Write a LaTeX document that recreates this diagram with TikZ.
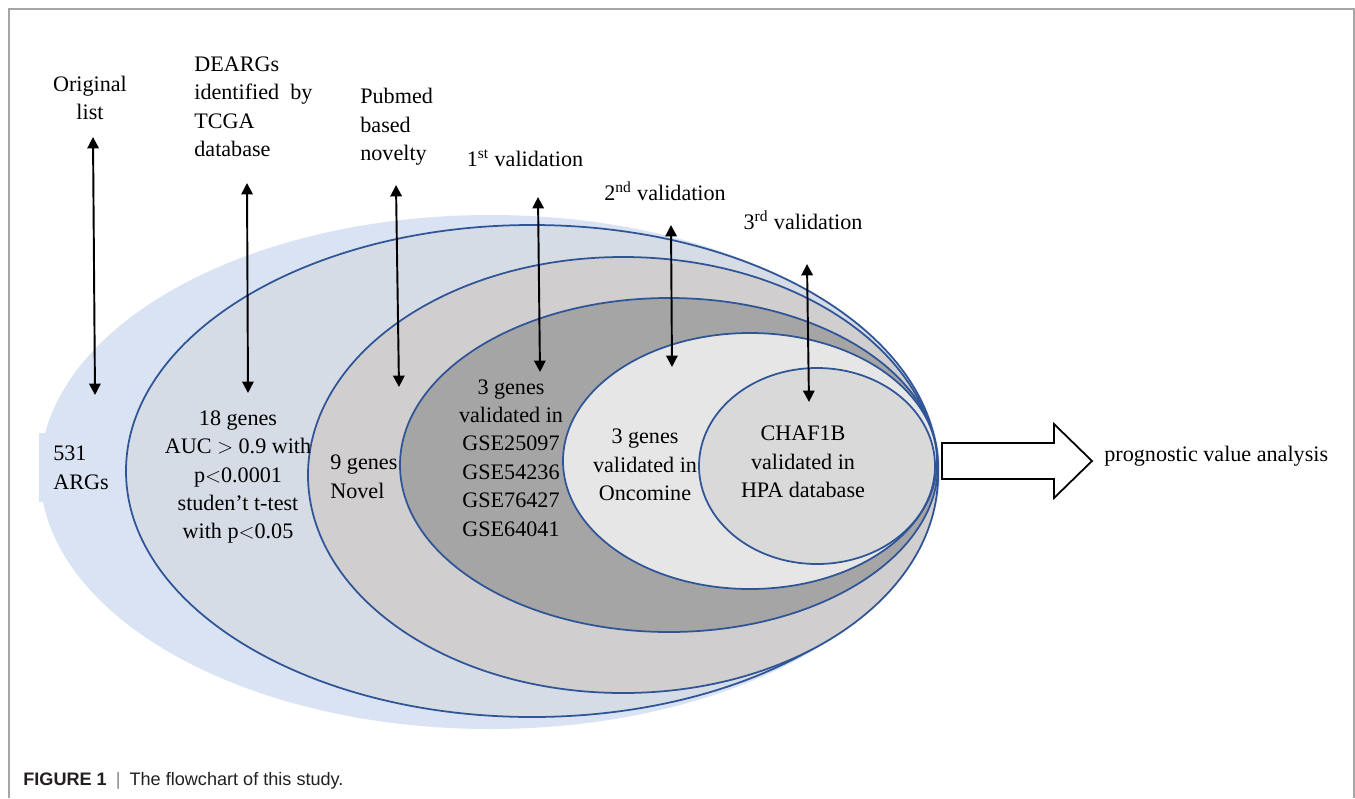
\documentclass[tikz,border=0pt]{standalone}
\usepackage{fontspec}
\setmainfont{Liberation Serif}
\newfontfamily\capfont{Liberation Sans}
\usepackage{xcolor}
\usetikzlibrary{arrows.meta,positioning}
\definecolor{argBlue}{HTML}{DAE3F3}
\definecolor{degBlue}{HTML}{D6DCE5}
\definecolor{novGray}{HTML}{D0CECE}
\definecolor{valDark}{HTML}{A5A5A5}
\definecolor{oncoLight}{HTML}{E7E6E6}
\definecolor{hpaGray}{HTML}{D9D9D9}
\definecolor{rimBlue}{HTML}{2F5597}
\definecolor{frameGray}{HTML}{A6A6A6}
\definecolor{capGray}{HTML}{231F20}
\tikzset{
    % Sets
    geneSet/.style={draw=rimBlue, line width=1pt},
    % Texts
    lbl/.style={font=\fontsize{12.6}{16.2}\selectfont, inner sep=0pt},
    % Arrows
    stepArr/.style={{Triangle[length=6.5pt,width=6.5pt]}-{Triangle[length=6.5pt,width=6.5pt]}, line width=1.1pt},
    bigArr/.style={draw=black, fill=white, line width=1pt, line join=miter}
}
\begin{document}
\begin{tikzpicture}[x=0.02cm, y=-0.02cm]
\useasboundingbox (0,0) rectangle (1355,798);
\draw[frameGray, line width=0.8pt] (9,798) -- (9,9) -- (1354,9) -- (1354,798);

% nested gene sets
\fill[argBlue] (490,472) ellipse [x radius=450, y radius=257];
\node[lbl, fill=argBlue, anchor=north west, align=left, inner xsep=0.28cm, minimum height=1.38cm] (args) at (39,433) {531\\ARGs};
\filldraw[geneSet, fill=degBlue] (532,471) ellipse [x radius=406, y radius=246];
\filldraw[geneSet, fill=novGray] (623,475) ellipse [x radius=315, y radius=218];
\filldraw[geneSet, fill=valDark] (669,465) ellipse [x radius=269, y radius=167];
\filldraw[geneSet, fill=oncoLight] (750,461) ellipse [x radius=187, y radius=128];
\filldraw[geneSet, fill=hpaGray] (817,466) ellipse [x radius=118, y radius=98];

% contents
\node[lbl, align=center] (deargs) at (238,477) {18 genes\\AUC $>$ 0.9 with\\p$<$0.0001\\studen'{}t t-test\\with p$<$0.05};
\node[lbl, align=left, anchor=west] (novel) at (330,477) {9 genes\\Novel};
\node[lbl, align=center] (gse) at (511,458) {3 genes\\validated in\\GSE25097\\GSE54236\\GSE76427\\GSE64041};
\node[lbl, align=center] (onco) at (645,465) {3 genes\\validated in\\Oncomine};
\node[lbl, align=center] (hpa) at (803,462) {CHAF1B\\validated in\\HPA database};

% steps
\node[lbl, align=center] (orig) at (90,98) {Original\\list};
\node[lbl, align=left, anchor=west] (tcga) at (194,107) {DEARGs\\identified\ \ by\\TCGA\\database};
\node[lbl, align=left, anchor=west] (pubmed) at (360,127) {Pubmed\\based\\novelty};
\node[lbl] (val1) at (525,158) {1\textsuperscript{st} validation};
\node[lbl] (val2) at (665,191) {2\textsuperscript{nd} validation};
\node[lbl] (val3) at (803,220) {3\textsuperscript{rd} validation};

\coordinate (origTop) at (93,137);   \coordinate (origBot) at (95,395);
\coordinate (tcgaTop) at (247,183);  \coordinate (tcgaBot) at (248,393);
\coordinate (pubTop) at (396,185);   \coordinate (pubBot) at (399,387);
\coordinate (valATop) at (538,197);  \coordinate (valABot) at (540,372);
\coordinate (valBTop) at (671,225);  \coordinate (valBBot) at (672,367);
\coordinate (valCTop) at (807,264);  \coordinate (valCBot) at (809,402);
\draw[stepArr] (origTop) -- (origBot);
\draw[stepArr] (tcgaTop) -- (tcgaBot);
\draw[stepArr] (pubTop) -- (pubBot);
\draw[stepArr] (valATop) -- (valABot);
\draw[stepArr] (valBTop) -- (valBBot);
\draw[stepArr] (valCTop) -- (valCBot);

% outcome
\coordinate (setsTip) at (942,461);
\draw[bigArr] (setsTip) ++(0,-18) -- ++(112,0) -- ++(0,-19) -- ++(38,37) -- ++(-38,37) -- ++(0,-19) -- ++(-112,0) -- cycle;
\node[lbl, anchor=west] (prog) at (1104,456) {prognostic value analysis};

\node[anchor=west, inner sep=0pt, text=capGray, font=\capfont\fontsize{10.3}{12}\selectfont] (cap) at (23,781)
    {\textbf{FIGURE 1}\hspace{0.5em}\textcolor{capGray!55}{|}\hspace{0.5em}The flowchart of this study.};
\end{tikzpicture}
\end{document}
